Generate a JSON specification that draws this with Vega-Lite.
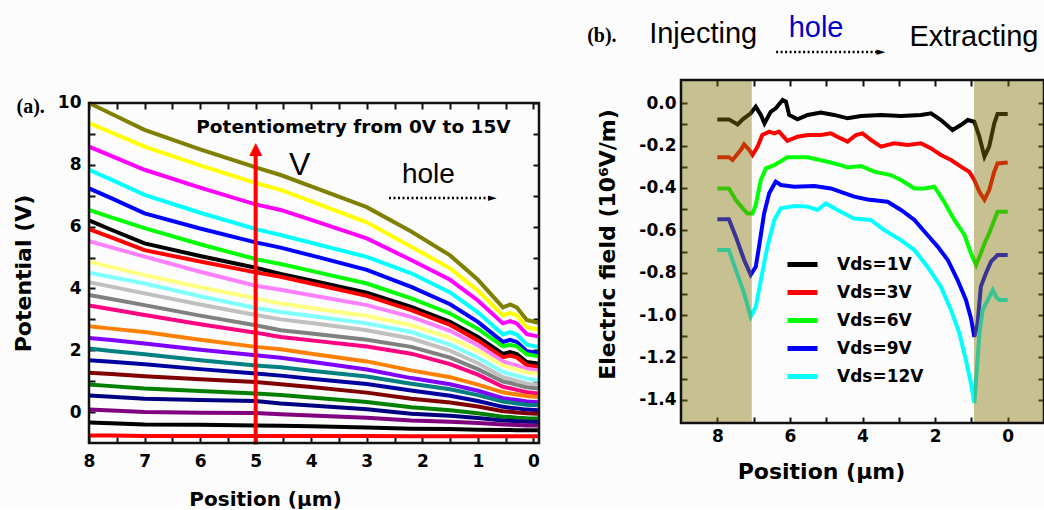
{
"$schema": "https://vega.github.io/schema/vega-lite/v6.json",
"background": "#fcfcfc",
"padding": {"left": 12, "top": 14, "right": 0, "bottom": 0},
"config": {
  "view": {"stroke": null},
  "axis": {"grid": false, "domain": false, "tickColor": "#111111", "tickWidth": 2, "labelFont": "DejaVu Sans", "labelFontWeight": "bold", "labelFontSize": 17, "labelColor": "#000", "titleFont": "DejaVu Sans", "titleFontWeight": "bold", "titleColor": "#000", "titleFontSize": 22, "minExtent": 0, "labelOverlap": false, "labelFlush": false}
},
"datasets": {
"pot": [
{"s":"a01","x":8,"v":10.0},{"s":"a01","x":7.6,"v":9.65},{"s":"a01","x":7,"v":9.13},{"s":"a01","x":6,"v":8.5},{"s":"a01","x":5,"v":7.92},{"s":"a01","x":4.55,"v":7.67},{"s":"a01","x":4,"v":7.3},{"s":"a01","x":3,"v":6.63},{"s":"a01","x":2.2,"v":5.84},{"s":"a01","x":1.5,"v":5.07},{"s":"a01","x":1,"v":4.28},{"s":"a01","x":0.55,"v":3.39},{"s":"a01","x":0.42,"v":3.48},{"s":"a01","x":0.3,"v":3.39},{"s":"a01","x":0.12,"v":2.98},{"s":"a01","x":-0.08,"v":2.89},
{"s":"a02","x":8,"v":9.35},{"s":"a02","x":7.6,"v":9.05},{"s":"a02","x":7,"v":8.59},{"s":"a02","x":6,"v":7.98},{"s":"a02","x":5,"v":7.41},{"s":"a02","x":4.55,"v":7.19},{"s":"a02","x":4,"v":6.82},{"s":"a02","x":3,"v":6.14},{"s":"a02","x":2.2,"v":5.35},{"s":"a02","x":1.5,"v":4.65},{"s":"a02","x":1,"v":3.93},{"s":"a02","x":0.55,"v":3.13},{"s":"a02","x":0.42,"v":3.21},{"s":"a02","x":0.3,"v":3.13},{"s":"a02","x":0.12,"v":2.75},{"s":"a02","x":-0.08,"v":2.67},
{"s":"a03","x":8,"v":8.59},{"s":"a03","x":7.6,"v":8.29},{"s":"a03","x":7,"v":7.84},{"s":"a03","x":6,"v":7.26},{"s":"a03","x":5,"v":6.72},{"s":"a03","x":4.55,"v":6.54},{"s":"a03","x":4,"v":6.22},{"s":"a03","x":3,"v":5.62},{"s":"a03","x":2.2,"v":4.92},{"s":"a03","x":1.5,"v":4.28},{"s":"a03","x":1,"v":3.61},{"s":"a03","x":0.55,"v":2.87},{"s":"a03","x":0.42,"v":2.94},{"s":"a03","x":0.3,"v":2.87},{"s":"a03","x":0.12,"v":2.52},{"s":"a03","x":-0.08,"v":2.45},
{"s":"a04","x":8,"v":7.84},{"s":"a04","x":7.6,"v":7.52},{"s":"a04","x":7,"v":7.03},{"s":"a04","x":6,"v":6.45},{"s":"a04","x":5,"v":5.92},{"s":"a04","x":4.55,"v":5.73},{"s":"a04","x":4,"v":5.48},{"s":"a04","x":3,"v":5.02},{"s":"a04","x":2.2,"v":4.49},{"s":"a04","x":1.5,"v":3.87},{"s":"a04","x":1,"v":3.23},{"s":"a04","x":0.55,"v":2.51},{"s":"a04","x":0.42,"v":2.59},{"s":"a04","x":0.3,"v":2.51},{"s":"a04","x":0.12,"v":2.18},{"s":"a04","x":-0.08,"v":2.11},
{"s":"a05","x":8,"v":7.24},{"s":"a05","x":7.6,"v":6.92},{"s":"a05","x":7,"v":6.43},{"s":"a05","x":6,"v":5.94},{"s":"a05","x":5,"v":5.49},{"s":"a05","x":4.55,"v":5.32},{"s":"a05","x":4,"v":5.07},{"s":"a05","x":3,"v":4.6},{"s":"a05","x":2.2,"v":4.05},{"s":"a05","x":1.5,"v":3.49},{"s":"a05","x":1,"v":2.92},{"s":"a05","x":0.55,"v":2.27},{"s":"a05","x":0.42,"v":2.34},{"s":"a05","x":0.3,"v":2.27},{"s":"a05","x":0.12,"v":1.97},{"s":"a05","x":-0.08,"v":1.91},
{"s":"a06","x":8,"v":6.54},{"s":"a06","x":7.6,"v":6.3},{"s":"a06","x":7,"v":5.95},{"s":"a06","x":6,"v":5.43},{"s":"a06","x":5,"v":4.95},{"s":"a06","x":4.55,"v":4.79},{"s":"a06","x":4,"v":4.57},{"s":"a06","x":3,"v":4.16},{"s":"a06","x":2.2,"v":3.68},{"s":"a06","x":1.5,"v":3.19},{"s":"a06","x":1,"v":2.69},{"s":"a06","x":0.55,"v":2.13},{"s":"a06","x":0.42,"v":2.18},{"s":"a06","x":0.3,"v":2.13},{"s":"a06","x":0.12,"v":1.87},{"s":"a06","x":-0.08,"v":1.81},
{"s":"a07","x":8,"v":6.2},{"s":"a07","x":7.6,"v":5.9},{"s":"a07","x":7,"v":5.46},{"s":"a07","x":6,"v":5.05},{"s":"a07","x":5,"v":4.67},{"s":"a07","x":4.55,"v":4.47},{"s":"a07","x":4,"v":4.26},{"s":"a07","x":3,"v":3.86},{"s":"a07","x":2.2,"v":3.4},{"s":"a07","x":1.5,"v":2.92},{"s":"a07","x":1,"v":2.43},{"s":"a07","x":0.55,"v":1.88},{"s":"a07","x":0.42,"v":1.94},{"s":"a07","x":0.3,"v":1.88},{"s":"a07","x":0.12,"v":1.62},{"s":"a07","x":-0.08,"v":1.57},
{"s":"a08","x":8,"v":5.92},{"s":"a08","x":7.6,"v":5.65},{"s":"a08","x":7,"v":5.24},{"s":"a08","x":6,"v":4.87},{"s":"a08","x":5,"v":4.52},{"s":"a08","x":4.55,"v":4.38},{"s":"a08","x":4,"v":4.16},{"s":"a08","x":3,"v":3.76},{"s":"a08","x":2.2,"v":3.3},{"s":"a08","x":1.5,"v":2.82},{"s":"a08","x":1,"v":2.32},{"s":"a08","x":0.55,"v":1.77},{"s":"a08","x":0.42,"v":1.83},{"s":"a08","x":0.3,"v":1.77},{"s":"a08","x":0.12,"v":1.52},{"s":"a08","x":-0.08,"v":1.46},
{"s":"a09","x":8,"v":5.53},{"s":"a09","x":7.6,"v":5.33},{"s":"a09","x":7,"v":5.03},{"s":"a09","x":6,"v":4.54},{"s":"a09","x":5,"v":4.09},{"s":"a09","x":4.55,"v":3.96},{"s":"a09","x":4,"v":3.78},{"s":"a09","x":3,"v":3.46},{"s":"a09","x":2.2,"v":3.08},{"s":"a09","x":1.5,"v":2.63},{"s":"a09","x":1,"v":2.16},{"s":"a09","x":0.55,"v":1.64},{"s":"a09","x":0.42,"v":1.57},{"s":"a09","x":0.3,"v":1.51},{"s":"a09","x":0.12,"v":1.4},{"s":"a09","x":-0.08,"v":1.35},
{"s":"a10","x":8,"v":4.87},{"s":"a10","x":7.6,"v":4.69},{"s":"a10","x":7,"v":4.43},{"s":"a10","x":6,"v":4.04},{"s":"a10","x":5,"v":3.68},{"s":"a10","x":4.55,"v":3.51},{"s":"a10","x":4,"v":3.37},{"s":"a10","x":3,"v":3.11},{"s":"a10","x":2.2,"v":2.81},{"s":"a10","x":1.5,"v":2.4},{"s":"a10","x":1,"v":1.98},{"s":"a10","x":0.55,"v":1.51},{"s":"a10","x":0.42,"v":1.44},{"s":"a10","x":0.3,"v":1.38},{"s":"a10","x":0.12,"v":1.29},{"s":"a10","x":-0.08,"v":1.24},
{"s":"a11","x":8,"v":4.51},{"s":"a11","x":7.6,"v":4.37},{"s":"a11","x":7,"v":4.16},{"s":"a11","x":6,"v":3.75},{"s":"a11","x":5,"v":3.37},{"s":"a11","x":4.55,"v":3.24},{"s":"a11","x":4,"v":3.11},{"s":"a11","x":3,"v":2.87},{"s":"a11","x":2.2,"v":2.59},{"s":"a11","x":1.5,"v":2.18},{"s":"a11","x":1,"v":1.76},{"s":"a11","x":0.55,"v":1.3},{"s":"a11","x":0.42,"v":1.23},{"s":"a11","x":0.3,"v":1.17},{"s":"a11","x":0.12,"v":1.08},{"s":"a11","x":-0.08,"v":1.03},
{"s":"a12","x":8,"v":4.2},{"s":"a12","x":7.6,"v":4.06},{"s":"a12","x":7,"v":3.84},{"s":"a12","x":6,"v":3.48},{"s":"a12","x":5,"v":3.14},{"s":"a12","x":4.55,"v":3.0},{"s":"a12","x":4,"v":2.88},{"s":"a12","x":3,"v":2.65},{"s":"a12","x":2.2,"v":2.38},{"s":"a12","x":1.5,"v":1.99},{"s":"a12","x":1,"v":1.58},{"s":"a12","x":0.55,"v":1.13},{"s":"a12","x":0.42,"v":1.07},{"s":"a12","x":0.3,"v":1.01},{"s":"a12","x":0.12,"v":0.92},{"s":"a12","x":-0.08,"v":0.87},
{"s":"a13","x":8,"v":3.79},{"s":"a13","x":7.6,"v":3.66},{"s":"a13","x":7,"v":3.46},{"s":"a13","x":6,"v":3.12},{"s":"a13","x":5,"v":2.81},{"s":"a13","x":4.55,"v":2.65},{"s":"a13","x":4,"v":2.54},{"s":"a13","x":3,"v":2.34},{"s":"a13","x":2.2,"v":2.11},{"s":"a13","x":1.5,"v":1.76},{"s":"a13","x":1,"v":1.39},{"s":"a13","x":0.55,"v":0.99},{"s":"a13","x":0.42,"v":0.94},{"s":"a13","x":0.3,"v":0.88},{"s":"a13","x":0.12,"v":0.8},{"s":"a13","x":-0.08,"v":0.76},
{"s":"a14","x":8,"v":3.45},{"s":"a14","x":7.6,"v":3.33},{"s":"a14","x":7,"v":3.14},{"s":"a14","x":6,"v":2.84},{"s":"a14","x":5,"v":2.57},{"s":"a14","x":4.55,"v":2.43},{"s":"a14","x":4,"v":2.32},{"s":"a14","x":3,"v":2.12},{"s":"a14","x":2.2,"v":1.89},{"s":"a14","x":1.5,"v":1.55},{"s":"a14","x":1,"v":1.21},{"s":"a14","x":0.55,"v":0.82},{"s":"a14","x":0.42,"v":0.77},{"s":"a14","x":0.3,"v":0.72},{"s":"a14","x":0.12,"v":0.64},{"s":"a14","x":-0.08,"v":0.6},
{"s":"a15","x":8,"v":2.78},{"s":"a15","x":7.6,"v":2.7},{"s":"a15","x":7,"v":2.59},{"s":"a15","x":6,"v":2.34},{"s":"a15","x":5,"v":2.11},{"s":"a15","x":4.55,"v":2.03},{"s":"a15","x":4,"v":1.89},{"s":"a15","x":3,"v":1.64},{"s":"a15","x":2.2,"v":1.35},{"s":"a15","x":1.5,"v":1.13},{"s":"a15","x":1,"v":0.89},{"s":"a15","x":0.55,"v":0.64},{"s":"a15","x":0.42,"v":0.6},{"s":"a15","x":0.3,"v":0.57},{"s":"a15","x":0.12,"v":0.52},{"s":"a15","x":-0.08,"v":0.49},
{"s":"a16","x":8,"v":2.4},{"s":"a16","x":7.6,"v":2.33},{"s":"a16","x":7,"v":2.22},{"s":"a16","x":6,"v":2.02},{"s":"a16","x":5,"v":1.84},{"s":"a16","x":4.55,"v":1.76},{"s":"a16","x":4,"v":1.63},{"s":"a16","x":3,"v":1.38},{"s":"a16","x":2.2,"v":1.1},{"s":"a16","x":1.5,"v":0.9},{"s":"a16","x":1,"v":0.69},{"s":"a16","x":0.55,"v":0.45},{"s":"a16","x":0.42,"v":0.42},{"s":"a16","x":0.3,"v":0.39},{"s":"a16","x":0.12,"v":0.34},{"s":"a16","x":-0.08,"v":0.32},
{"s":"a17","x":8,"v":2.06},{"s":"a17","x":7.6,"v":1.98},{"s":"a17","x":7,"v":1.87},{"s":"a17","x":6,"v":1.68},{"s":"a17","x":5,"v":1.51},{"s":"a17","x":4.55,"v":1.45},{"s":"a17","x":4,"v":1.34},{"s":"a17","x":3,"v":1.15},{"s":"a17","x":2.2,"v":0.92},{"s":"a17","x":1.5,"v":0.74},{"s":"a17","x":1,"v":0.55},{"s":"a17","x":0.55,"v":0.34},{"s":"a17","x":0.42,"v":0.31},{"s":"a17","x":0.3,"v":0.28},{"s":"a17","x":0.12,"v":0.24},{"s":"a17","x":-0.08,"v":0.22},
{"s":"a18","x":8,"v":1.68},{"s":"a18","x":7.6,"v":1.63},{"s":"a18","x":7,"v":1.55},{"s":"a18","x":6,"v":1.39},{"s":"a18","x":5,"v":1.25},{"s":"a18","x":4.55,"v":1.18},{"s":"a18","x":4,"v":1.08},{"s":"a18","x":3,"v":0.91},{"s":"a18","x":2.2,"v":0.7},{"s":"a18","x":1.5,"v":0.53},{"s":"a18","x":1,"v":0.36},{"s":"a18","x":0.55,"v":0.17},{"s":"a18","x":0.42,"v":0.14},{"s":"a18","x":0.3,"v":0.12},{"s":"a18","x":0.12,"v":0.08},{"s":"a18","x":-0.08,"v":0.06},
{"s":"a19","x":8,"v":1.27},{"s":"a19","x":7.6,"v":1.23},{"s":"a19","x":7,"v":1.16},{"s":"a19","x":6,"v":1.06},{"s":"a19","x":5,"v":0.97},{"s":"a19","x":4.55,"v":0.9},{"s":"a19","x":4,"v":0.81},{"s":"a19","x":3,"v":0.63},{"s":"a19","x":2.2,"v":0.43},{"s":"a19","x":1.5,"v":0.31},{"s":"a19","x":1,"v":0.18},{"s":"a19","x":0.55,"v":0.03},{"s":"a19","x":0.42,"v":0.01},{"s":"a19","x":0.3,"v":-0.01},{"s":"a19","x":0.12,"v":-0.04},{"s":"a19","x":-0.08,"v":-0.05},
{"s":"a20","x":8,"v":0.89},{"s":"a20","x":7.6,"v":0.84},{"s":"a20","x":7,"v":0.76},{"s":"a20","x":6,"v":0.68},{"s":"a20","x":5,"v":0.6},{"s":"a20","x":4.55,"v":0.55},{"s":"a20","x":4,"v":0.47},{"s":"a20","x":3,"v":0.33},{"s":"a20","x":2.2,"v":0.16},{"s":"a20","x":1.5,"v":0.06},{"s":"a20","x":1,"v":-0.04},{"s":"a20","x":0.55,"v":-0.15},{"s":"a20","x":0.42,"v":-0.16},{"s":"a20","x":0.3,"v":-0.18},{"s":"a20","x":0.12,"v":-0.2},{"s":"a20","x":-0.08,"v":-0.21},
{"s":"a21","x":8,"v":0.54},{"s":"a21","x":7.6,"v":0.5},{"s":"a21","x":7,"v":0.43},{"s":"a21","x":6,"v":0.39},{"s":"a21","x":5,"v":0.36},{"s":"a21","x":4.55,"v":0.28},{"s":"a21","x":4,"v":0.21},{"s":"a21","x":3,"v":0.09},{"s":"a21","x":2.2,"v":-0.05},{"s":"a21","x":1.5,"v":-0.12},{"s":"a21","x":1,"v":-0.19},{"s":"a21","x":0.55,"v":-0.27},{"s":"a21","x":0.42,"v":-0.28},{"s":"a21","x":0.3,"v":-0.3},{"s":"a21","x":0.12,"v":-0.31},{"s":"a21","x":-0.08,"v":-0.32},
{"s":"a22","x":8,"v":0.08},{"s":"a22","x":7.6,"v":0.05},{"s":"a22","x":7,"v":0.0},{"s":"a22","x":6,"v":-0.02},{"s":"a22","x":5,"v":-0.03},{"s":"a22","x":4.55,"v":-0.07},{"s":"a22","x":4,"v":-0.11},{"s":"a22","x":3,"v":-0.18},{"s":"a22","x":2.2,"v":-0.27},{"s":"a22","x":1.5,"v":-0.31},{"s":"a22","x":1,"v":-0.35},{"s":"a22","x":0.55,"v":-0.4},{"s":"a22","x":0.42,"v":-0.41},{"s":"a22","x":0.3,"v":-0.42},{"s":"a22","x":0.12,"v":-0.43},{"s":"a22","x":-0.08,"v":-0.43},
{"s":"a23","x":8,"v":-0.34},{"s":"a23","x":7.6,"v":-0.36},{"s":"a23","x":7,"v":-0.4},{"s":"a23","x":6,"v":-0.41},{"s":"a23","x":5,"v":-0.43},{"s":"a23","x":4.55,"v":-0.44},{"s":"a23","x":4,"v":-0.46},{"s":"a23","x":3,"v":-0.5},{"s":"a23","x":2.2,"v":-0.54},{"s":"a23","x":1.5,"v":-0.55},{"s":"a23","x":1,"v":-0.57},{"s":"a23","x":0.55,"v":-0.58},{"s":"a23","x":0.42,"v":-0.58},{"s":"a23","x":0.3,"v":-0.59},{"s":"a23","x":0.12,"v":-0.59},{"s":"a23","x":-0.08,"v":-0.59},
{"s":"a24","x":8,"v":-0.76},{"s":"a24","x":7.6,"v":-0.76},{"s":"a24","x":7,"v":-0.77},{"s":"a24","x":6,"v":-0.77},{"s":"a24","x":5,"v":-0.77},{"s":"a24","x":4.55,"v":-0.77},{"s":"a24","x":4,"v":-0.77},{"s":"a24","x":3,"v":-0.77},{"s":"a24","x":2.2,"v":-0.78},{"s":"a24","x":1.5,"v":-0.78},{"s":"a24","x":1,"v":-0.78},{"s":"a24","x":0.55,"v":-0.78},{"s":"a24","x":0.42,"v":-0.78},{"s":"a24","x":0.3,"v":-0.78},{"s":"a24","x":0.12,"v":-0.78},{"s":"a24","x":-0.08,"v":-0.78}
],
"ef": [
{"vds":"Vds=1V","x":8,"e":-0.076},{"vds":"Vds=1V","x":7.68,"e":-0.076},{"vds":"Vds=1V","x":7.44,"e":-0.1},{"vds":"Vds=1V","x":7.3,"e":-0.076},{"vds":"Vds=1V","x":7.08,"e":-0.047},{"vds":"Vds=1V","x":6.94,"e":-0.016},{"vds":"Vds=1V","x":6.8,"e":-0.055},{"vds":"Vds=1V","x":6.7,"e":-0.095},{"vds":"Vds=1V","x":6.53,"e":-0.04},{"vds":"Vds=1V","x":6.39,"e":-0.024},{"vds":"Vds=1V","x":6.2,"e":0.016},{"vds":"Vds=1V","x":6.11,"e":0.008},{"vds":"Vds=1V","x":6.02,"e":-0.055},{"vds":"Vds=1V","x":5.79,"e":-0.076},{"vds":"Vds=1V","x":5.51,"e":-0.055},{"vds":"Vds=1V","x":5.15,"e":-0.044},{"vds":"Vds=1V","x":4.78,"e":-0.055},{"vds":"Vds=1V","x":4.41,"e":-0.071},{"vds":"Vds=1V","x":4.04,"e":-0.06},{"vds":"Vds=1V","x":3.49,"e":-0.055},{"vds":"Vds=1V","x":2.94,"e":-0.06},{"vds":"Vds=1V","x":2.39,"e":-0.055},{"vds":"Vds=1V","x":2.11,"e":-0.047},{"vds":"Vds=1V","x":1.84,"e":-0.079},{"vds":"Vds=1V","x":1.52,"e":-0.126},{"vds":"Vds=1V","x":1.29,"e":-0.103},{"vds":"Vds=1V","x":1.1,"e":-0.079},{"vds":"Vds=1V","x":0.92,"e":-0.087},{"vds":"Vds=1V","x":0.78,"e":-0.158},{"vds":"Vds=1V","x":0.64,"e":-0.252},{"vds":"Vds=1V","x":0.51,"e":-0.205},{"vds":"Vds=1V","x":0.37,"e":-0.095},{"vds":"Vds=1V","x":0.28,"e":-0.05},{"vds":"Vds=1V","x":0,"e":-0.05},
{"vds":"Vds=3V","x":8,"e":-0.255},{"vds":"Vds=3V","x":7.68,"e":-0.255},{"vds":"Vds=3V","x":7.58,"e":-0.268},{"vds":"Vds=3V","x":7.35,"e":-0.22},{"vds":"Vds=3V","x":7.26,"e":-0.194},{"vds":"Vds=3V","x":7.12,"e":-0.22},{"vds":"Vds=3V","x":7.03,"e":-0.244},{"vds":"Vds=3V","x":6.89,"e":-0.205},{"vds":"Vds=3V","x":6.76,"e":-0.15},{"vds":"Vds=3V","x":6.57,"e":-0.134},{"vds":"Vds=3V","x":6.43,"e":-0.142},{"vds":"Vds=3V","x":6.3,"e":-0.134},{"vds":"Vds=3V","x":6.07,"e":-0.177},{"vds":"Vds=3V","x":5.79,"e":-0.158},{"vds":"Vds=3V","x":5.51,"e":-0.15},{"vds":"Vds=3V","x":5.15,"e":-0.15},{"vds":"Vds=3V","x":4.87,"e":-0.142},{"vds":"Vds=3V","x":4.6,"e":-0.166},{"vds":"Vds=3V","x":4.41,"e":-0.181},{"vds":"Vds=3V","x":4.18,"e":-0.15},{"vds":"Vds=3V","x":4.0,"e":-0.142},{"vds":"Vds=3V","x":3.77,"e":-0.173},{"vds":"Vds=3V","x":3.49,"e":-0.205},{"vds":"Vds=3V","x":3.13,"e":-0.189},{"vds":"Vds=3V","x":2.76,"e":-0.197},{"vds":"Vds=3V","x":2.39,"e":-0.189},{"vds":"Vds=3V","x":2.11,"e":-0.213},{"vds":"Vds=3V","x":1.84,"e":-0.244},{"vds":"Vds=3V","x":1.56,"e":-0.268},{"vds":"Vds=3V","x":1.29,"e":-0.299},{"vds":"Vds=3V","x":1.06,"e":-0.323},{"vds":"Vds=3V","x":0.92,"e":-0.362},{"vds":"Vds=3V","x":0.78,"e":-0.418},{"vds":"Vds=3V","x":0.64,"e":-0.455},{"vds":"Vds=3V","x":0.51,"e":-0.41},{"vds":"Vds=3V","x":0.37,"e":-0.323},{"vds":"Vds=3V","x":0.28,"e":-0.284},{"vds":"Vds=3V","x":0,"e":-0.28},
{"vds":"Vds=6V","x":8,"e":-0.402},{"vds":"Vds=6V","x":7.68,"e":-0.402},{"vds":"Vds=6V","x":7.49,"e":-0.457},{"vds":"Vds=6V","x":7.3,"e":-0.496},{"vds":"Vds=6V","x":7.17,"e":-0.52},{"vds":"Vds=6V","x":7.03,"e":-0.52},{"vds":"Vds=6V","x":6.94,"e":-0.48},{"vds":"Vds=6V","x":6.8,"e":-0.362},{"vds":"Vds=6V","x":6.66,"e":-0.307},{"vds":"Vds=6V","x":6.43,"e":-0.292},{"vds":"Vds=6V","x":6.07,"e":-0.255},{"vds":"Vds=6V","x":5.51,"e":-0.255},{"vds":"Vds=6V","x":4.96,"e":-0.276},{"vds":"Vds=6V","x":4.6,"e":-0.292},{"vds":"Vds=6V","x":4.41,"e":-0.303},{"vds":"Vds=6V","x":4.04,"e":-0.296},{"vds":"Vds=6V","x":3.68,"e":-0.323},{"vds":"Vds=6V","x":3.22,"e":-0.339},{"vds":"Vds=6V","x":2.94,"e":-0.362},{"vds":"Vds=6V","x":2.57,"e":-0.402},{"vds":"Vds=6V","x":2.3,"e":-0.402},{"vds":"Vds=6V","x":2.02,"e":-0.394},{"vds":"Vds=6V","x":1.75,"e":-0.465},{"vds":"Vds=6V","x":1.47,"e":-0.551},{"vds":"Vds=6V","x":1.19,"e":-0.622},{"vds":"Vds=6V","x":1.01,"e":-0.709},{"vds":"Vds=6V","x":0.87,"e":-0.764},{"vds":"Vds=6V","x":0.74,"e":-0.709},{"vds":"Vds=6V","x":0.64,"e":-0.662},{"vds":"Vds=6V","x":0.51,"e":-0.614},{"vds":"Vds=6V","x":0.37,"e":-0.551},{"vds":"Vds=6V","x":0.28,"e":-0.512},{"vds":"Vds=6V","x":0,"e":-0.512},
{"vds":"Vds=9V","x":8,"e":-0.548},{"vds":"Vds=9V","x":7.68,"e":-0.548},{"vds":"Vds=9V","x":7.49,"e":-0.63},{"vds":"Vds=9V","x":7.26,"e":-0.74},{"vds":"Vds=9V","x":7.08,"e":-0.81},{"vds":"Vds=9V","x":6.94,"e":-0.772},{"vds":"Vds=9V","x":6.85,"e":-0.677},{"vds":"Vds=9V","x":6.71,"e":-0.52},{"vds":"Vds=9V","x":6.57,"e":-0.425},{"vds":"Vds=9V","x":6.39,"e":-0.37},{"vds":"Vds=9V","x":6.25,"e":-0.386},{"vds":"Vds=9V","x":5.88,"e":-0.394},{"vds":"Vds=9V","x":5.33,"e":-0.391},{"vds":"Vds=9V","x":4.87,"e":-0.402},{"vds":"Vds=9V","x":4.6,"e":-0.418},{"vds":"Vds=9V","x":4.23,"e":-0.441},{"vds":"Vds=9V","x":3.86,"e":-0.454},{"vds":"Vds=9V","x":3.31,"e":-0.465},{"vds":"Vds=9V","x":2.94,"e":-0.504},{"vds":"Vds=9V","x":2.57,"e":-0.551},{"vds":"Vds=9V","x":2.21,"e":-0.622},{"vds":"Vds=9V","x":1.93,"e":-0.677},{"vds":"Vds=9V","x":1.65,"e":-0.74},{"vds":"Vds=9V","x":1.38,"e":-0.835},{"vds":"Vds=9V","x":1.15,"e":-0.929},{"vds":"Vds=9V","x":1.01,"e":-1.016},{"vds":"Vds=9V","x":0.92,"e":-1.103},{"vds":"Vds=9V","x":0.83,"e":-1.04},{"vds":"Vds=9V","x":0.74,"e":-0.866},{"vds":"Vds=9V","x":0.6,"e":-0.803},{"vds":"Vds=9V","x":0.46,"e":-0.748},{"vds":"Vds=9V","x":0.28,"e":-0.717},{"vds":"Vds=9V","x":0,"e":-0.717},
{"vds":"Vds=12V","x":8,"e":-0.693},{"vds":"Vds=12V","x":7.68,"e":-0.693},{"vds":"Vds=12V","x":7.49,"e":-0.787},{"vds":"Vds=12V","x":7.26,"e":-0.898},{"vds":"Vds=12V","x":7.08,"e":-1.008},{"vds":"Vds=12V","x":6.94,"e":-0.961},{"vds":"Vds=12V","x":6.8,"e":-0.835},{"vds":"Vds=12V","x":6.62,"e":-0.677},{"vds":"Vds=12V","x":6.43,"e":-0.551},{"vds":"Vds=12V","x":6.25,"e":-0.496},{"vds":"Vds=12V","x":5.88,"e":-0.485},{"vds":"Vds=12V","x":5.51,"e":-0.488},{"vds":"Vds=12V","x":5.24,"e":-0.504},{"vds":"Vds=12V","x":5.01,"e":-0.473},{"vds":"Vds=12V","x":4.69,"e":-0.504},{"vds":"Vds=12V","x":4.23,"e":-0.544},{"vds":"Vds=12V","x":3.77,"e":-0.551},{"vds":"Vds=12V","x":3.4,"e":-0.599},{"vds":"Vds=12V","x":2.94,"e":-0.646},{"vds":"Vds=12V","x":2.57,"e":-0.693},{"vds":"Vds=12V","x":2.21,"e":-0.772},{"vds":"Vds=12V","x":1.84,"e":-0.866},{"vds":"Vds=12V","x":1.56,"e":-0.977},{"vds":"Vds=12V","x":1.33,"e":-1.087},{"vds":"Vds=12V","x":1.15,"e":-1.213},{"vds":"Vds=12V","x":1.01,"e":-1.323},{"vds":"Vds=12V","x":0.92,"e":-1.415},{"vds":"Vds=12V","x":0.85,"e":-1.26},{"vds":"Vds=12V","x":0.78,"e":-1.087},{"vds":"Vds=12V","x":0.69,"e":-0.977},{"vds":"Vds=12V","x":0.55,"e":-0.929},{"vds":"Vds=12V","x":0.41,"e":-0.882},{"vds":"Vds=12V","x":0.32,"e":-0.914},{"vds":"Vds=12V","x":0.23,"e":-0.929},{"vds":"Vds=12V","x":0,"e":-0.929}
],
"shade": [{"a": 9, "b": 7.05}, {"a": 0.93, "b": -1}]
},
"bounds": "flush",
"spacing": 142,
"resolve": {"scale": {"color": "independent", "x": "independent", "y": "independent"}, "legend": {"color": "independent"}},
"hconcat": [
{
  "width": 450, "height": 363,
  "view": {"stroke": null},
  "resolve": {"axis": {"x": "independent", "y": "independent"}},
  "layer": [
    {
      "data": {"name": "pot"},
      "mark": {"type": "line", "strokeWidth": 4},
      "encoding": {
        "x": {"field": "x", "type": "quantitative", "scale": {"domain": [8, -0.1], "nice": false, "zero": false},
              "axis": {"orient": "bottom", "values": [0,0.5,1,1.5,2,2.5,3,3.5,4,4.5,5,5.5,6,6.5,7,7.5,8], "labelExpr": "datum.value % 1 === 0 ? format(datum.value, 'd') : ''", "tickSize": -6, "tickColor": "#111111", "labelPadding": 16, "title": "Position (μm)", "titleFontSize": 20, "titlePadding": 20, "titleX": 176}},
        "y": {"field": "v", "type": "quantitative", "scale": {"domain": [-1, 10.744], "nice": false, "zero": false},
              "axis": {"orient": "left", "values": [0,1,2,3,4,5,6,7,8,9,10], "labelExpr": "datum.value % 2 === 0 ? format(datum.value, 'd') : ''", "tickSize": -6, "tickColor": "#111111", "labelPadding": 14, "title": "Potential (V)", "titlePadding": 22, "titleY": 193}},
        "color": {"field": "s", "type": "nominal", "legend": null,
                  "scale": {"domain": ["a01","a02","a03","a04","a05","a06","a07","a08","a09","a10","a11","a12","a13","a14","a15","a16","a17","a18","a19","a20","a21","a22","a23","a24"],
                            "range": ["#808000","#ffff00","#ff00ff","#00ffff","#0000ff","#00ff00","#000000","#ff0000","#ff80ff","#ffff80","#80ffff","#c0c0c0","#808080","#ff0080","#ff8000","#8000ff","#008080","#0000a0","#800000","#008000","#000080","#800080","#000000","#ff0000"]}}
      }
    },
    {
      "data": {"values": [{}]},
      "mark": {"type": "rule", "color": "#ff0000", "strokeWidth": 4},
      "encoding": {
        "x": {"datum": 5, "type": "quantitative", "axis": {"orient": "top", "offset": -23, "values": [0,0.5,1,1.5,2,2.5,3,3.5,4,4.5,5,5.5,6,6.5,7,7.5,8], "tickSize": -6, "tickColor": "#111111", "labels": false, "title": null}},
        "y": {"datum": -1.05, "type": "quantitative", "axis": {"orient": "right", "values": [0,1,2,3,4,5,6,7,8,9,10], "tickSize": -6, "tickColor": "#111111", "labels": false, "title": null}},
        "y2": {"datum": 8.3}
      }
    },
    {
      "data": {"values": [{}]},
      "mark": {"type": "text", "font": "DejaVu Sans", "fontSize": 17, "align": "center", "baseline": "middle", "color": "#ff0000"},
      "encoding": {
        "x": {"datum": 5, "type": "quantitative", "axis": null},
        "y": {"datum": 8.5, "type": "quantitative", "axis": null},
        "text": {"value": "▲"}
      }
    },
    {
      "data": {"values": [{}]},
      "mark": {"type": "rule", "color": "#000", "strokeWidth": 2.5, "strokeDash": [2, 2.5]},
      "encoding": {
        "x": {"datum": 2.6, "type": "quantitative", "axis": null},
        "x2": {"datum": 0.8},
        "y": {"datum": 6.93, "type": "quantitative", "axis": null}
      }
    },
    {
      "data": {"values": [{}]},
      "mark": {"type": "text", "font": "DejaVu Sans", "fontSize": 11, "align": "center", "baseline": "middle", "color": "#000"},
      "encoding": {
        "x": {"datum": 0.74, "type": "quantitative", "axis": null},
        "y": {"datum": 6.93, "type": "quantitative", "axis": null},
        "text": {"value": "►"}
      }
    },
    {
      "data": {"values": [{}]},
      "mark": {"type": "text", "font": "Liberation Serif", "fontWeight": "bold", "fontSize": 20, "align": "center", "baseline": "middle", "color": "#000"},
      "encoding": {
        "x": {"datum": 9.05, "type": "quantitative", "axis": null},
        "y": {"datum": 9.87, "type": "quantitative", "axis": null},
        "text": {"value": "(a)."}
      }
    },
    {
      "data": {"values": [{}]},
      "mark": {"type": "text", "font": "DejaVu Sans", "fontWeight": "bold", "fontSize": 18.5, "align": "center", "baseline": "middle", "color": "#000"},
      "encoding": {
        "x": {"datum": 3.24, "type": "quantitative", "axis": null},
        "y": {"datum": 9.23, "type": "quantitative", "axis": null},
        "text": {"value": "Potentiometry from 0V to 15V"}
      }
    },
    {
      "data": {"values": [{}]},
      "mark": {"type": "text", "font": "Liberation Sans", "fontSize": 32, "align": "center", "baseline": "middle", "color": "#000"},
      "encoding": {
        "x": {"datum": 4.21, "type": "quantitative", "axis": null},
        "y": {"datum": 7.99, "type": "quantitative", "axis": null},
        "text": {"value": "V"}
      }
    },
    {
      "data": {"values": [{}]},
      "mark": {"type": "text", "font": "Liberation Sans", "fontSize": 28, "align": "center", "baseline": "alphabetic", "color": "#000"},
      "encoding": {
        "x": {"datum": 1.89, "type": "quantitative", "axis": null},
        "y": {"datum": 7.41, "type": "quantitative", "axis": null},
        "text": {"value": "hole"}
      }
    },
    {
      "data": {"values": [{}]},
      "mark": {"type": "rect", "fillOpacity": 0, "stroke": "#111111", "strokeWidth": 2.5},
      "encoding": {
        "x": {"datum": 8, "type": "quantitative", "axis": null},
        "x2": {"datum": -0.1},
        "y": {"datum": -1, "type": "quantitative", "axis": null},
        "y2": {"datum": 10}
      }
    }
  ]
},
{
  "width": 363, "height": 343,
  "view": {"stroke": null},
  "resolve": {"axis": {"x": "independent", "y": "independent"}},
  "layer": [
    {
      "data": {"name": "ef"},
      "mark": {"type": "line", "strokeWidth": 4},
      "encoding": {
        "x": {"field": "x", "type": "quantitative", "scale": {"domain": [9, -1], "nice": false, "zero": false},
              "axis": {"orient": "bottom", "values": [0,1,2,3,4,5,6,7,8], "labelExpr": "datum.value % 2 === 0 ? format(datum.value, 'd') : ''", "tickSize": -6, "tickColor": "#111111", "labelPadding": 11, "title": "Position (μm)", "titlePadding": 17, "titleX": 140}},
        "y": {"field": "e", "type": "quantitative", "scale": {"domain": [-1.51, 0.11], "nice": false, "zero": false},
              "axis": {"orient": "left", "values": [-1.4,-1.3,-1.2,-1.1,-1,-0.9,-0.8,-0.7,-0.6,-0.5,-0.4,-0.3,-0.2,-0.1,0], "labelExpr": "round(datum.value * 10) % 2 === 0 ? replace(format(datum.value, '.1f'), '\u2212', '-') : ''", "tickSize": -6, "tickColor": "#111111", "labelPadding": 11, "title": "Electric field (10⁶V/m)", "titlePadding": 19, "titleY": 164}},
        "color": {"field": "vds", "type": "nominal",
                  "scale": {"domain": ["Vds=1V","Vds=3V","Vds=6V","Vds=9V","Vds=12V"], "range": ["#000000","#ff0000","#00ff00","#0000ff","#00ffff"]},
                  "legend": {"orient": "none", "legendX": 104, "legendY": 167, "title": null, "symbolType": "stroke", "symbolSize": 900, "symbolStrokeWidth": 5, "labelFont": "DejaVu Sans", "labelFontWeight": "bold", "labelFontSize": 17, "labelColor": "#000", "labelOffset": 17, "rowPadding": 0, "padding": 0}}
      }
    },
    {
      "data": {"name": "shade"},
      "mark": {"type": "rect", "color": "#84760b", "opacity": 0.44},
      "encoding": {
        "x": {"field": "a", "type": "quantitative", "axis": null},
        "x2": {"field": "b"},
        "y": {"datum": -1.51, "type": "quantitative", "axis": null},
        "y2": {"datum": 0.11}
      }
    },
    {
      "data": {"values": [{}]},
      "mark": {"type": "rule", "color": "#000", "strokeWidth": 2.5, "strokeDash": [2, 2.5]},
      "encoding": {
        "x": {"datum": 6.38, "type": "quantitative", "axis": {"orient": "top", "values": [0,1,2,3,4,5,6,7,8], "tickSize": -6, "tickColor": "#111111", "labels": false, "title": null}},
        "x2": {"datum": 3.6},
        "y": {"datum": 0.242, "type": "quantitative", "axis": {"orient": "right", "values": [-1.4,-1.3,-1.2,-1.1,-1,-0.9,-0.8,-0.7,-0.6,-0.5,-0.4,-0.3,-0.2,-0.1,0], "tickSize": -6, "tickColor": "#111111", "labels": false, "title": null}}
      }
    },
    {
      "data": {"values": [{}]},
      "mark": {"type": "text", "font": "DejaVu Sans", "fontSize": 11, "align": "center", "baseline": "middle", "color": "#000"},
      "encoding": {
        "x": {"datum": 3.5, "type": "quantitative", "axis": null},
        "y": {"datum": 0.242, "type": "quantitative", "axis": null},
        "text": {"value": "►"}
      }
    },
    {
      "data": {"values": [{}]},
      "mark": {"type": "text", "font": "Liberation Serif", "fontWeight": "bold", "fontSize": 20, "align": "center", "baseline": "middle", "color": "#000"},
      "encoding": {
        "x": {"datum": 11.18, "type": "quantitative", "axis": null},
        "y": {"datum": 0.318, "type": "quantitative", "axis": null},
        "text": {"value": "(b)."}
      }
    },
    {
      "data": {"values": [{}]},
      "mark": {"type": "text", "font": "Liberation Sans", "fontSize": 29, "align": "center", "baseline": "alphabetic", "color": "#000"},
      "encoding": {
        "x": {"datum": 8.39, "type": "quantitative", "axis": null},
        "y": {"datum": 0.287, "type": "quantitative", "axis": null},
        "text": {"value": "Injecting"}
      }
    },
    {
      "data": {"values": [{}]},
      "mark": {"type": "text", "font": "Liberation Sans", "fontSize": 29, "align": "center", "baseline": "alphabetic", "color": "#0000c8"},
      "encoding": {
        "x": {"datum": 5.28, "type": "quantitative", "axis": null},
        "y": {"datum": 0.313, "type": "quantitative", "axis": null},
        "text": {"value": "hole"}
      }
    },
    {
      "data": {"values": [{}]},
      "mark": {"type": "text", "font": "Liberation Sans", "fontSize": 29, "align": "center", "baseline": "alphabetic", "color": "#000"},
      "encoding": {
        "x": {"datum": 0.93, "type": "quantitative", "axis": null},
        "y": {"datum": 0.27, "type": "quantitative", "axis": null},
        "text": {"value": "Extracting"}
      }
    },
    {
      "data": {"values": [{}]},
      "mark": {"type": "rect", "fillOpacity": 0, "stroke": "#111111", "strokeWidth": 2.5},
      "encoding": {
        "x": {"datum": 9, "type": "quantitative", "axis": null},
        "x2": {"datum": -1},
        "y": {"datum": -1.51, "type": "quantitative", "axis": null},
        "y2": {"datum": 0.11}
      }
    }
  ]
}
]
}
